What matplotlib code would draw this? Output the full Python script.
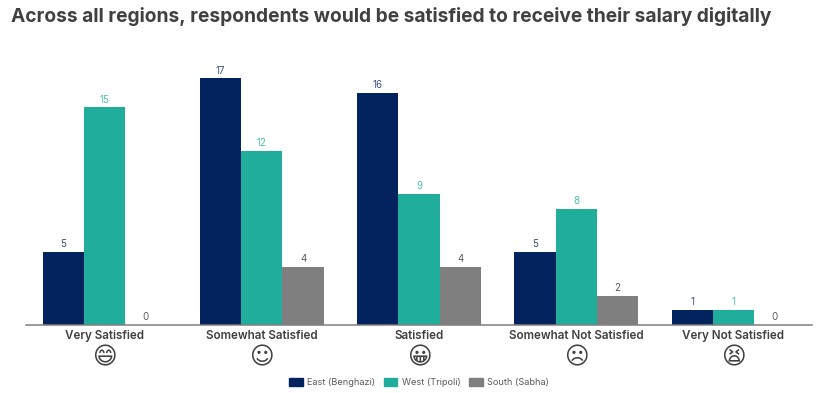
import matplotlib
matplotlib.use("Agg")
import matplotlib.pyplot as plt
import numpy as np
from matplotlib.patches import Patch

categories = ["Very Satisfied", "Somewhat Satisfied", "Satisfied", "Somewhat Not Satisfied", "Very Not Satisfied"]
emojis = ["\U0001F604", "\u263A", "\U0001F600", "\u2639", "\U0001F62B"]
series_names = ["East (Benghazi)", "West (Tripoli)", "South (Sabha)"]
east = [5, 17, 16, 5, 1]
west = [15, 12, 9, 8, 1]
south = [0, 4, 4, 2, 0]
title = "Across all regions, respondents would be satisfied to receive their salary digitally"

colors = ["#03235F", "#21AD9B", "#7F7F7F"]
label_colors = ["#3B4F85", "#4FC0B0", "#595959"]
W, H = 827, 393
plt.rcParams["font.family"] = ["Inter", "DejaVu Sans"]

fig = plt.figure(figsize=(W / 100, H / 100), dpi=100)
ax = fig.add_axes([26 / W, 1 - 324.5 / H, 786 / W, 284.5 / H])
x = np.arange(len(categories))
bw = 0.2625
for i, (vals, c, lc) in enumerate(zip([east, west, south], colors, label_colors)):
    pos = x + (i - 1) * bw
    ax.bar(pos, vals, bw, color=c, label=series_names[i])
    for p, v in zip(pos, vals):
        ax.annotate(str(v), (p, v), xytext=(0, 2), textcoords="offset points",
                    ha="center", va="bottom", fontsize=7, color=lc)

ax.set_xlim(-0.5, 4.5)
ax.set_ylim(0, 19.66)
ax.set_yticks([])
ax.set_xticks(x)
ax.set_xticklabels(categories, fontsize=8.4, fontweight="semibold", color="#404040")
ax.tick_params(axis="x", length=0, pad=4)
for s in ["top", "left", "right"]:
    ax.spines[s].set_visible(False)
ax.spines["bottom"].set_color("#7F7F7F")
ax.spines["bottom"].set_linewidth(1.1)

for p, e in zip(x, emojis):
    ax.annotate(e, (p, 0), xytext=(0, -24), textcoords="offset points", ha="center", va="center",
                fontsize=17, color="#404040", family="DejaVu Sans",
                annotation_clip=False)

fig.text(11 / W, 1 - 17 / H, title, fontsize=13.8, fontweight="bold", color="#404040", va="center", ha="left")
handles = [Patch(color=c, label=n) for c, n in zip(colors, series_names)]
fig.legend(handles=handles, loc="center", bbox_to_anchor=(419 / W, 1 - 382.5 / H), ncol=3, frameon=False,
           fontsize=6.6, labelcolor="#595959", handlelength=1.5, handleheight=0.9,
           handletextpad=0.5, columnspacing=0.9)
fig.savefig("out.png", dpi=100)
